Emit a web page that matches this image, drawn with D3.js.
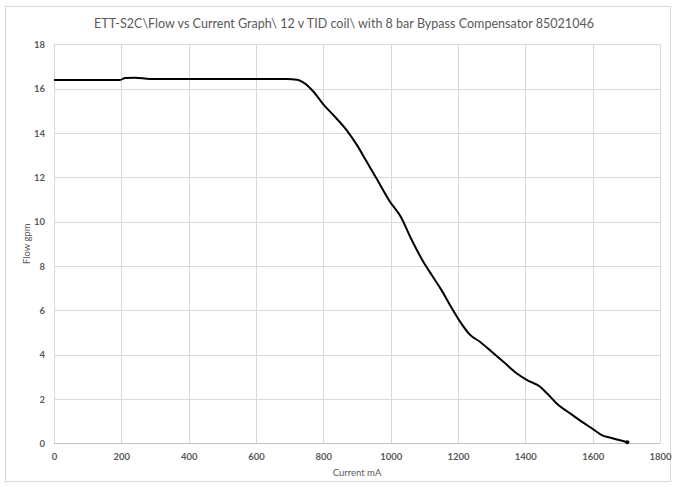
<!DOCTYPE html>
<html><head><meta charset="utf-8">
<script src="https://cdn.jsdelivr.net/npm/d3@7/dist/d3.min.js"></script>
<style>body{margin:0;background:#fff}</style>
</head><body>
<svg id="c" width="676" height="487"></svg>
<script>
const title = "ETT-S2C\\Flow vs Current Graph\\ 12 v TID coil\\ with 8 bar Bypass Compensator 85021046";
const xTicks = [0,200,400,600,800,1000,1200,1400,1600,1800];
const yTicks = [0,2,4,6,8,10,12,14,16,18];
const current = [0,196,211,241,285,582,690,722,740,771,800,835,869,900,929,958,998,1030,1060,1097,1122,1151,1176,1206,1236,1265,1300,1340,1374,1404,1444,1464,1493,1533,1572,1602,1627,1661,1703];
const flow = [16.39,16.39,16.48,16.49,16.44,16.44,16.43,16.4,16.28,15.86,15.29,14.72,14.13,13.45,12.7,11.95,10.9,10.22,9.25,8.19,7.59,6.91,6.24,5.49,4.89,4.58,4.13,3.61,3.16,2.86,2.55,2.26,1.80,1.35,0.93,0.63,0.37,0.22,0.05];

const svg = d3.select("#c");
const m={l:54,r:660,t:44.3,b:443.3};
const x=d3.scaleLinear().domain([0,1800]).range([m.l,m.r]);
const y=d3.scaleLinear().domain([0,18]).range([m.b,m.t]);
const font="Lato, 'Liberation Sans', Arial, sans-serif";

svg.append("rect").attr("x",5.5).attr("y",6.5).attr("width",665).attr("height",475)
  .attr("fill","#fff").attr("stroke","#d9d9d9");

svg.append("text").attr("x",344).attr("y",27.5).attr("text-anchor","middle")
  .attr("font-family",font).attr("font-size",14).attr("fill","#595959")
  .attr("textLength",500).attr("lengthAdjust","spacingAndGlyphs").text(title);

// gridlines
svg.append("g").selectAll("line").data(yTicks.filter(d=>d>0)).join("line")
  .attr("x1",m.l).attr("x2",m.r).attr("y1",d=>Math.round(y(d))+0.5).attr("y2",d=>Math.round(y(d))+0.5)
  .attr("stroke","#d9d9d9").attr("stroke-width",1);
svg.append("g").selectAll("line").data(xTicks).join("line")
  .attr("y1",m.t).attr("y2",m.b).attr("x1",d=>Math.round(x(d))+0.5).attr("x2",d=>Math.round(x(d))+0.5)
  .attr("stroke","#d9d9d9").attr("stroke-width",1);
svg.append("line").attr("x1",m.l).attr("x2",m.r).attr("y1",Math.round(y(0))+0.5).attr("y2",Math.round(y(0))+0.5)
  .attr("stroke","#bfbfbf");

// axes via d3
const gx=svg.append("g").attr("transform",`translate(0,${m.b})`)
  .call(d3.axisBottom(x).tickValues(xTicks).tickSize(0).tickPadding(10).tickFormat(d3.format("d")));
const gy=svg.append("g").attr("transform",`translate(${m.l},0)`)
  .call(d3.axisLeft(y).tickValues(yTicks).tickSize(0).tickPadding(9).tickFormat(d3.format("d")));
[gx,gy].forEach(g=>{g.select(".domain").remove();
  g.selectAll("text").attr("font-family",font).attr("font-size",9.5).attr("font-weight","bold").attr("fill","#595959");});

svg.append("text").attr("x",(m.l+m.r)/2).attr("y",476).attr("text-anchor","middle")
  .attr("font-family",font).attr("font-size",9.5).attr("fill","#595959").text("Current mA");
svg.append("text").attr("transform",`translate(30,${(m.t+m.b)/2}) rotate(-90)`).attr("text-anchor","middle")
  .attr("font-family",font).attr("font-size",9.5).attr("fill","#595959").text("Flow gpm");

const data=current.map((c,i)=>({c,f:flow[i]}));
svg.append("path").datum(data).attr("fill","none").attr("stroke","#000").attr("stroke-width",2)
  .attr("stroke-linejoin","round")
  .attr("d",d3.line().x(d=>x(d.c)).y(d=>y(d.f)).curve(d3.curveMonotoneX));
const last=data[data.length-1];
svg.append("circle").attr("cx",x(last.c)).attr("cy",y(last.f)).attr("r",2).attr("fill","#000");
</script>
</body></html>
